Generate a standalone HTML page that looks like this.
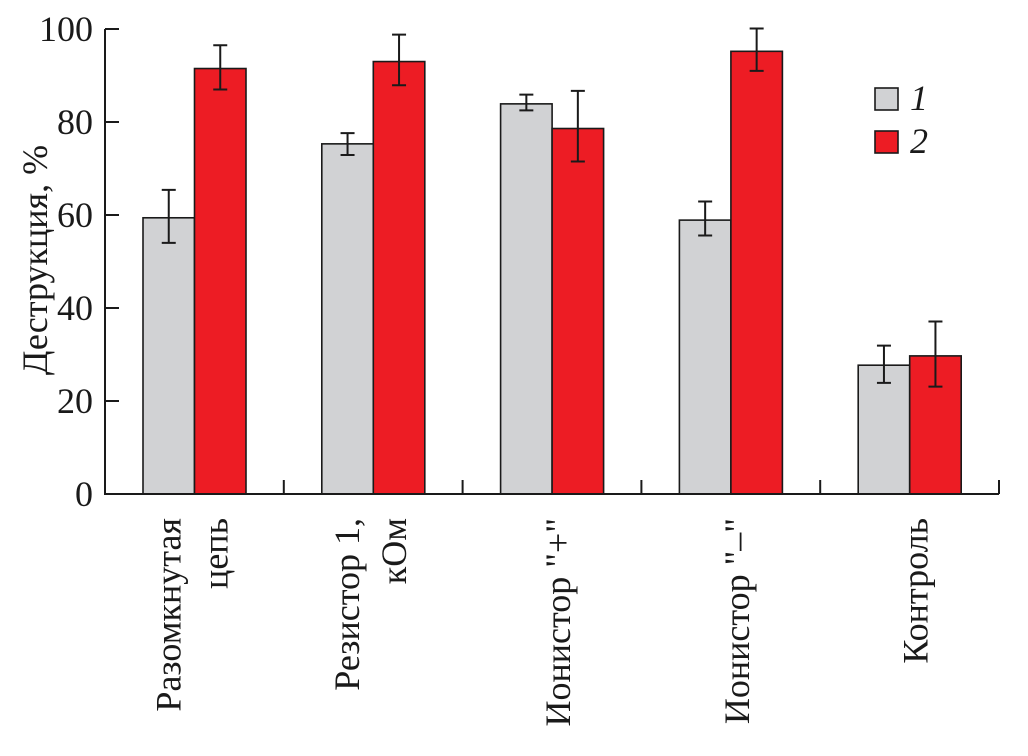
<!DOCTYPE html>
<html><head><meta charset="utf-8"><style>
html,body{margin:0;padding:0;background:#fff;}
svg{display:block;}
svg text{font-family:"Liberation Serif","Times New Roman","DejaVu Serif",serif;fill:#1a1a1a;}
</style></head><body>
<svg id="chart" width="1028" height="756" viewBox="0 0 1028 756" xmlns="http://www.w3.org/2000/svg" font-family="'Liberation Serif','Times New Roman','DejaVu Serif',serif"></svg>
<script>
const categories = [["Разомкнутая","цепь"],["Резистор 1,","кОм"],["Ионистор \"+\""],["Ионистор \"–\""],["Контроль"]];
const series1 = [59.4, 75.3, 83.9, 58.9, 27.7];
const series1Lo = [54.0, 72.9, 82.5, 55.6, 23.9];
const series1Hi = [65.4, 77.6, 85.9, 62.9, 31.9];
const series2 = [91.5, 93.0, 78.6, 95.2, 29.7];
const series2Lo = [87.0, 87.9, 71.5, 91.0, 23.1];
const series2Hi = [96.5, 98.8, 86.7, 100.1, 37.1];
const yTicks = [0, 20, 40, 60, 80, 100];
const legendLabels = ["1", "2"];

const NS = "http://www.w3.org/2000/svg";
const svg = document.getElementById("chart");
const FONT = "'Liberation Serif','Times New Roman','DejaVu Serif',serif";
const X0 = 105, X1 = 999, Y0 = 494, Y100 = 29;
const gw = (X1 - X0) / categories.length;
const y = v => Y0 - (v / 100) * (Y0 - Y100);
const gx = i => X0 + i * gw;
function mk(tag, attrs, parent) {
  const e = document.createElementNS(NS, tag);
  for (const k in attrs) e.setAttribute(k, attrs[k]);
  if (tag === "text") e.setAttribute("font-family", FONT);
  (parent || svg).appendChild(e);
  return e;
}
const colors = ["#d1d2d4", "#ed1c24"];
const bw = 51.5;
categories.forEach((c, i) => {
  const g = mk("g", {});
  
  
  [[series1, series1Lo, series1Hi], [series2, series2Lo, series2Hi]].forEach((s, k) => {
    const bx = gx(i) + 38 + k * bw;
    const r = mk("rect", {x: bx, y: y(s[0][i]), width: bw, height: Y0 - y(s[0][i]), fill: colors[k], stroke: "#1a1a1a", "stroke-width": 1.6}, g);
    
    
    const cx = bx + bw / 2;
    const eb = mk("path", {d: `M${cx},${y(s[2][i])}V${y(s[1][i])}M${cx-7},${y(s[2][i])}H${cx+7}M${cx-7},${y(s[1][i])}H${cx+7}`, stroke: "#1a1a1a", "stroke-width": 2, fill: "none"}, g);
    
    
  });
  const cxg = gx(i) + gw / 2;
  const lines = c;
  const offs = lines.length === 2 ? [-14, 33] : [18];
  lines.forEach((ln, j) => {
    const bx = cxg + offs[j];
    const t = mk("text", {x: 0, y: 0, "font-size": 36, "text-anchor": "end", transform: `translate(${bx},518) rotate(-90)`}, g);
    t.textContent = ln;
    
    
  });
});
const ax = mk("path", {d: `M${X0},${Y100}V${Y0}H${X1}`, stroke: "#1a1a1a", "stroke-width": 2, fill: "none"});


for (let i = 1; i <= categories.length; i++) {
  const t = mk("line", {x1: gx(i), x2: gx(i), y1: Y0, y2: Y0 - 14, stroke: "#1a1a1a", "stroke-width": 2});
  
  
}
yTicks.forEach(v => {
  const t = mk("line", {x1: X0, x2: X0 + 14, y1: y(v), y2: y(v), stroke: "#1a1a1a", "stroke-width": 2});
  
  
  const l = mk("text", {x: 93, y: y(v) + 12, "font-size": 36, "text-anchor": "end"});
  l.textContent = v;
  
  
});
const yl = mk("text", {x: 0, y: 0, "font-size": 36, "text-anchor": "middle", transform: "translate(47,260) rotate(-90)"});
yl.textContent = "Деструкция, %";


legendLabels.forEach((lab, k) => {
  const ly = 88 + k * 43;
  const r = mk("rect", {x: 875, y: ly, width: 23, height: 22, fill: colors[k], stroke: "#1a1a1a", "stroke-width": 1.6});
  
  
  const t = mk("text", {x: 910, y: ly + 22, "font-size": 36, "font-style": "italic"});
  t.textContent = lab;
  
  
});
</script>
</body></html>
